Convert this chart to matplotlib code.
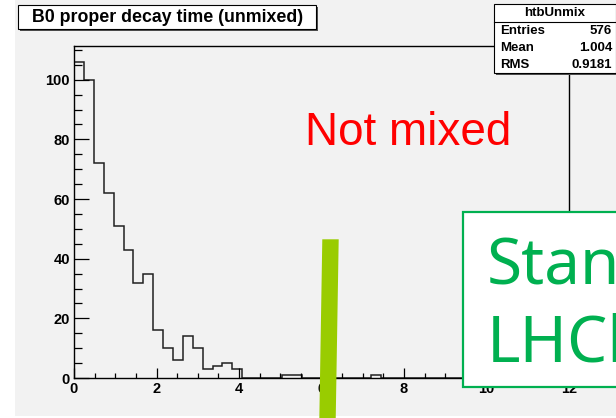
import numpy as np
import matplotlib.pyplot as plt
from matplotlib.patches import Rectangle, Polygon
from matplotlib.ticker import MultipleLocator

# histogram htbUnmix : 50 bins on [0, 12]
n_bins = 50
t_lo, t_hi = 0.0, 12.0
counts = [106, 100, 72, 62, 51, 43, 32, 35, 16, 10,
          6, 14, 10, 3, 4, 5, 3, 0, 0, 0,
          0, 1, 1, 0, 0, 0, 0, 0, 0, 0,
          1, 0, 0, 0, 0, 0, 0, 0, 0, 0,
          0, 0, 0, 0, 0, 0, 0, 0, 0, 0]

hist_name = 'htbUnmix'
stat_names = ['Entries', 'Mean', 'RMS']
stat_values = ['576', '1.004', '0.9181']

title = 'B0 proper decay time (unmixed)'
note = 'Not mixed'
box_lines = ['Standard', 'LHCb']

W, H = 616, 418
grey = '#f2f2f2'
green = '#00b050'
font = 'Liberation Sans'

fig = plt.figure(figsize=(W / 100, H / 100), dpi=100, facecolor='white')

# canvas background (pixel coords)
bg = fig.add_axes([0, 0, 1, 1], zorder=0)
bg.set_xlim(0, W)
bg.set_ylim(H, 0)
bg.axis('off')
bg.add_patch(Rectangle((15, 0), W - 15, 416, fc=grey, ec='none'))

# frame
ax = fig.add_axes([74 / W, 1 - 378 / H, (569 - 74) / W, (378 - 46) / H], zorder=1)
ax.set_facecolor('none')
edges = np.linspace(t_lo, t_hi, n_bins + 1)
ax.stairs(counts, edges, color='#202020', lw=1.1)
ax.set_xlim(t_lo, t_hi)
ax.set_ylim(0, max(counts) * 1.05)

ax.xaxis.set_major_locator(MultipleLocator(2))
ax.xaxis.set_minor_locator(MultipleLocator(0.5))
ax.yaxis.set_major_locator(MultipleLocator(20))
ax.yaxis.set_minor_locator(MultipleLocator(5))
ax.tick_params(axis='x', which='major', direction='in', length=7.2, width=0.9, pad=3)
ax.tick_params(axis='x', which='minor', direction='in', length=3.6, width=0.9)
ax.tick_params(axis='y', which='major', direction='in', length=10.8, width=0.9, pad=3)
ax.tick_params(axis='y', which='minor', direction='in', length=5.4, width=0.9)
for lab in ax.get_xticklabels() + ax.get_yticklabels():
    lab.set_fontfamily(font)
    lab.set_fontweight('bold')
    lab.set_fontsize(10.5)
for s in ax.spines.values():
    s.set_linewidth(1.0)

# overlays (pixel coords)
ov = fig.add_axes([0, 0, 1, 1], zorder=2)
ov.set_xlim(0, W)
ov.set_ylim(H, 0)
ov.axis('off')

# title box
ov.add_patch(Rectangle((20, 7), 298, 24, fc='#505050', ec='none'))
ov.add_patch(Rectangle((18, 5), 298, 24, fc='white', ec='black', lw=0.8))
ov.text(168, 17.5, title, ha='center', va='center', fontfamily=font,
        fontweight='bold', fontsize=12.8)

# stats box
ov.add_patch(Rectangle((496, 6), 122, 69, fc='#505050', ec='none'))
ov.add_patch(Rectangle((494, 4), 122, 69, fc='white', ec='black', lw=0.8))
ov.plot([494, 616], [22, 22], color='black', lw=0.8)
ov.text(555, 13.5, hist_name, ha='center', va='center', fontfamily=font,
        fontweight='bold', fontsize=9.5)
for i, (nm, val) in enumerate(zip(stat_names, stat_values)):
    y = 31.5 + 16.5 * i
    ov.text(500, y, nm, ha='left', va='center', fontfamily=font,
            fontweight='bold', fontsize=9.5)
    ov.text(612, y, val, ha='right', va='center', fontfamily=font,
            fontweight='bold', fontsize=9.5)

# red note
ov.text(408, 145, note, ha='center', va='baseline', color='red',
        fontfamily=font, fontsize=33)

# green pen stroke
ov.add_patch(Polygon([(322.3, 239.3), (338.7, 239.3), (335.7, 420), (319.3, 420)],
                     closed=True, fc='#99cc00', ec='none'))

# green text box (runs off the slide, as in the original)
ov.add_patch(Rectangle((463, 212), 170, 175, fc='white', ec=green, lw=1.6))
for txt, yb in zip(box_lines, [283, 362]):
    ov.text(487, yb, txt, ha='left', va='baseline', color=green,
            fontfamily='Noto Sans', fontsize=46, clip_on=True)

fig.savefig('out.png', dpi=100, facecolor=fig.get_facecolor())
